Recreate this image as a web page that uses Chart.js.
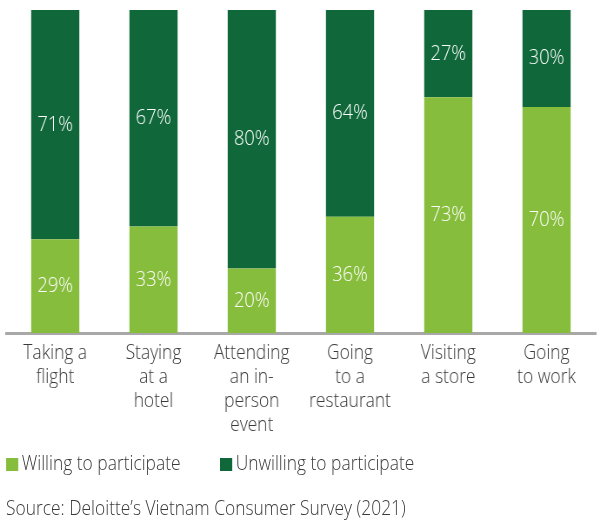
<!DOCTYPE html>
<html>
<head>
<meta charset="utf-8">
<script src="https://cdn.jsdelivr.net/npm/chart.js@4/dist/chart.umd.min.js"></script>
<style>
  html, body { margin: 0; padding: 0; background: #fff; overflow: hidden; }
  /* the reference is slightly squeezed horizontally: draw wider, then scale */
  #wrap { width: 690px; height: 526px; position: relative; transform: scaleX(0.8696); transform-origin: 0 0;
          font-family: 'Open Sans'; font-weight: 300; color: #3a3a3a; }
  #chartBox { position: absolute; left: 0; top: 0; width: 690px; height: 440px; }
  .legend { position: absolute; top: 449px; left: 7px; font-size: 20px; line-height: 28px; white-space: nowrap; }
  .legend span.item { position: absolute; top: 0; }
  .legend i { display: inline-block; width: 14px; height: 13px; margin-right: 4px; vertical-align: -1px; }
  .source { position: absolute; top: 494px; left: 7px; font-size: 20px; line-height: 28px; white-space: nowrap; }
</style>
</head>
<body>
<div id="wrap">
  <div id="chartBox"><canvas id="surveyChart"></canvas></div>
  <div class="legend" id="legend"></div>
  <div class="source">Source: Deloitte’s Vietnam Consumer Survey (2021)</div>
</div>
<script>
// categories (multi-line tick labels)
const categories = [
  ["Taking a", "flight"],
  ["Staying", "at a", "hotel"],
  ["Attending", "an in-", "person", "event"],
  ["Going", "to a", "restaurant"],
  ["Visiting", "a store"],
  ["Going", "to work"]
];
const willing = [29, 33, 20, 36, 73, 70];
const unwilling = [71, 67, 80, 64, 27, 30];

const lightGreen = "#87BD3C";
const darkGreen = "#10683A";
const textColor = "#3a3a3a";

// write the % value in the middle of each bar segment
const segmentLabels = {
  id: "segmentLabels",
  afterDatasetsDraw(chart) {
    const ctx = chart.ctx;
    ctx.save();
    ctx.fillStyle = "#fff";
    ctx.font = "300 21px 'Open Sans'";
    ctx.textAlign = "center";
    ctx.textBaseline = "middle";
    chart.data.datasets.forEach((ds, i) => {
      chart.getDatasetMeta(i).data.forEach((bar, j) => {
        const mid = (bar.y + bar.base) / 2;
        ctx.fillText(ds.data[j] + "%", bar.x, mid);
      });
    });
    ctx.restore();
  }
};

const ctx = document.getElementById("surveyChart").getContext("2d");
const chart = new Chart(ctx, {
  type: "bar",
  data: {
    labels: categories,
    datasets: [
      {
        label: "Willing to participate",
        data: willing,
        backgroundColor: lightGreen,
        categoryPercentage: 1,
        barPercentage: 0.49
      },
      {
        label: "Unwilling to participate",
        data: unwilling,
        backgroundColor: darkGreen,
        categoryPercentage: 1,
        barPercentage: 0.49
      }
    ]
  },
  options: {
    responsive: true,
    maintainAspectRatio: false,
    animation: false,
    layout: { padding: { top: 10, left: 7, right: 5, bottom: 3 } },
    plugins: {
      legend: { display: false },
      tooltip: { enabled: false }
    },
    scales: {
      x: {
        stacked: true,
        grid: { display: false },
        border: { display: true, color: "#a8a8a8", width: 3 },
        ticks: {
          color: textColor,
          font: { family: "'Open Sans'", size: 20, weight: 300, lineHeight: 1.2 },
          maxRotation: 0,
          autoSkip: false,
          padding: 0
        }
      },
      y: {
        stacked: true,
        display: false,
        min: 0,
        max: 100
      }
    }
  },
  plugins: [segmentLabels]
});

// legend built from the dataset labels and colours
const legendEl = document.getElementById("legend");
const legendX = [0, 246];
chart.data.datasets.forEach((ds, i) => {
  const item = document.createElement("span");
  item.className = "item";
  item.style.left = legendX[i] + "px";
  item.innerHTML = '<i style="background:' + ds.backgroundColor + '"></i>' + ds.label;
  legendEl.appendChild(item);
});
</script>
</body>
</html>
